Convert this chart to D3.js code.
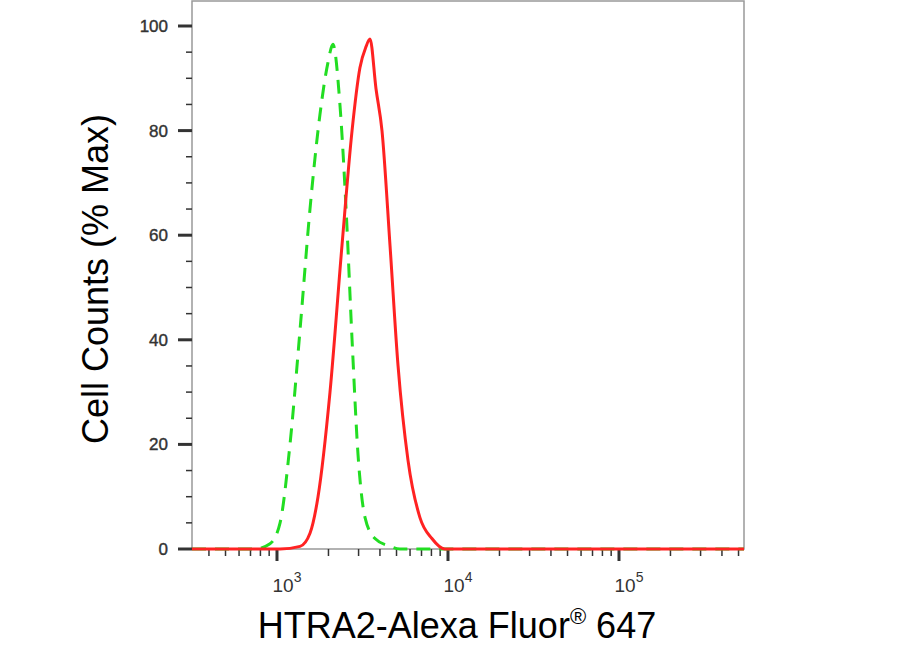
<!DOCTYPE html>
<html><head><meta charset="utf-8">
<script src="https://d3js.org/d3.v7.min.js"></script>
<style>body{margin:0;background:#fff}text{font-family:"Liberation Sans",Arial,sans-serif}</style>
</head><body><div id="chart"></div>
<script>
// log10 intensity and % max
const greenLog = [2.503, 2.871, 2.959, 3.018, 3.076, 3.135, 3.193, 3.251, 3.298, 3.327, 3.368, 3.404, 3.439, 3.474, 3.515, 3.573, 3.661, 3.719, 5.731];
const greenVal = [0, 0, 1, 5, 20, 42, 65, 83, 93, 96.5, 85, 65, 40, 18, 6, 2, 0.5, 0, 0];
const redLog = [2.503, 3.018, 3.135, 3.193, 3.240, 3.310, 3.380, 3.439, 3.485, 3.520, 3.544, 3.579, 3.614, 3.661, 3.708, 3.766, 3.836, 3.906, 3.982, 5.731];
const redVal = [0, 0, 0.5, 3, 10, 30, 58, 80, 92, 96, 97.5, 88, 80, 58, 35, 17, 6, 2, 0, 0];
const yTicks = [0, 20, 40, 60, 80, 100];
const xTicks = [1e3, 1e4, 1e5];

const W = 924, H = 656;
const L = 192, R = 744, T = 1, B = 549;
const svg = d3.select("#chart").append("svg").attr("width", W).attr("height", H);

const x = d3.scaleLog().domain([Math.pow(10, 2.503), Math.pow(10, 5.731)]).range([L, R]);
const y = d3.scaleLinear().domain([0, 100]).range([B, 26]);

svg.append("rect").attr("x", L).attr("y", T).attr("width", R - L).attr("height", B - T)
  .attr("fill", "none").attr("stroke", "#999").attr("stroke-width", 1.5);

// y ticks
const g = svg.append("g").attr("stroke", "#333");
for (let v = 0; v <= 100; v += 5) {
  const major = v % 20 == 0;
  g.append("line").attr("x1", major ? L - 14 : L - 6).attr("x2", L).attr("y1", y(v)).attr("y2", y(v))
    .attr("stroke-width", major ? 3 : 1.5);
}
svg.selectAll(".yl").data(yTicks).enter().append("text")
  .attr("x", L - 24).attr("y", d => y(d) + 6).attr("text-anchor", "end")
  .attr("font-size", 17).attr("fill", "#333").attr("stroke", "#333").attr("stroke-width", 0.4).text(d => d);

// x ticks
for (let e = 2; e <= 5; e++) {
  for (let m = 1; m <= 9; m++) {
    const v = m * Math.pow(10, e);
    if (v < x.domain()[0] || v > x.domain()[1]) continue;
    const major = m == 1;
    g.append("line").attr("x1", x(v)).attr("x2", x(v)).attr("y1", B).attr("y2", B + (major ? 12 : 7))
      .attr("stroke-width", major ? 3 : 1.5);
  }
}
const xl = svg.selectAll(".xl").data(xTicks).enter().append("text")
  .attr("x", d => x(d) + 10).attr("y", B + 43).attr("text-anchor", "middle")
  .attr("font-size", 19).attr("fill", "#333");
xl.append("tspan").text("10");
xl.append("tspan").attr("dy", -10).attr("font-size", 14).text(d => Math.round(Math.log10(d)));

const line = d3.line().x(d => x(Math.pow(10, d[0]))).y(d => y(d[1])).curve(d3.curveMonotoneX);
svg.append("path").datum(greenLog.map((v, i) => [v, greenVal[i]])).attr("d", line)
  .attr("fill", "none").attr("stroke", "#22dd22").attr("stroke-width", 3).attr("stroke-dasharray", "14,9");
svg.append("path").datum(redLog.map((v, i) => [v, redVal[i]])).attr("d", line)
  .attr("fill", "none").attr("stroke", "#ff2222").attr("stroke-width", 3);

svg.append("text").attr("transform", `translate(108,${(T + B) / 2 + 4}) rotate(-90)`)
  .attr("text-anchor", "middle").attr("font-size", 36).text("Cell Counts (% Max)");
const t = svg.append("text").attr("x", 457).attr("y", 638).attr("text-anchor", "middle").attr("font-size", 36);
t.append("tspan").text("HTRA2-Alexa Fluor");
t.append("tspan").attr("dy", -14).attr("font-size", 22).text("®");
t.append("tspan").attr("dy", 14).text(" 647");
</script></body></html>
